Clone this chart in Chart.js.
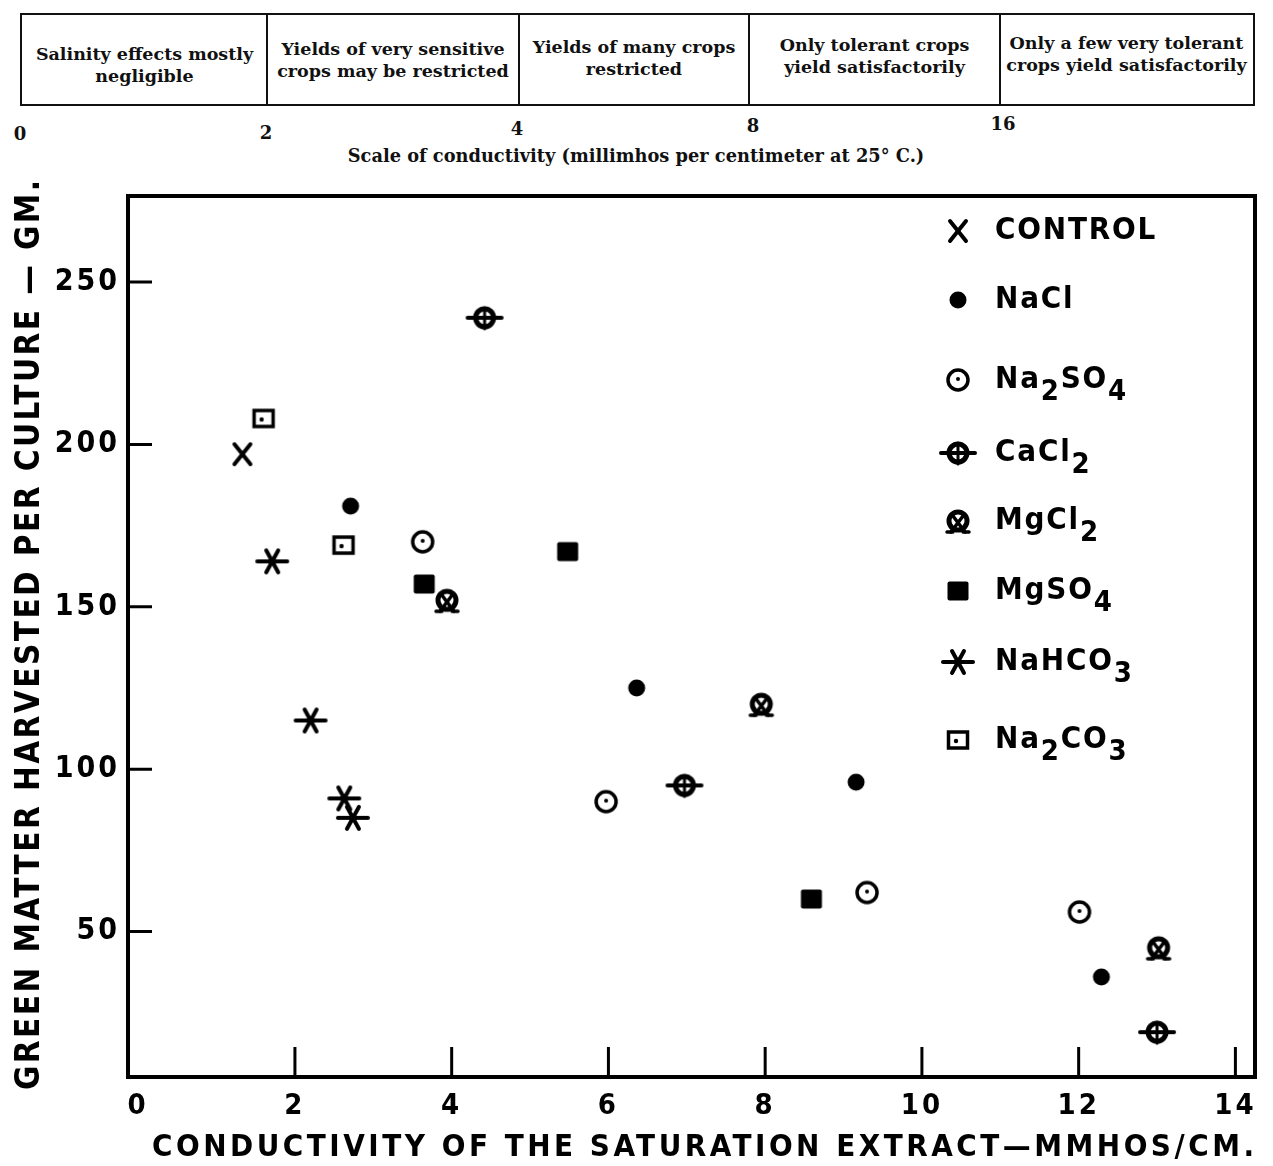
<!DOCTYPE html>
<html>
<head>
<meta charset="utf-8">
<script src="https://cdn.jsdelivr.net/npm/chart.js@4.4.0/dist/chart.umd.min.js"></script>
<style>
  body { margin: 0; background: #fff; width: 1273px; height: 1166px; overflow: hidden; position: relative; color: #111; }
  #band { position: absolute; left: 20px; top: 13px; width: 1235px; height: 93px; border: 2px solid #111; box-sizing: border-box; }
  .cell { position: absolute; top: 0; height: 100%; display: flex; align-items: center; justify-content: center;
          text-align: center; font: bold 17.5px "DejaVu Serif", serif; line-height: 22px; white-space: nowrap; }
  .sep { position: absolute; top: 0; bottom: 0; width: 2px; background: #111; }
  .num { position: absolute; font: bold 18px "DejaVu Serif", serif; transform: translate(-50%, -50%); }
  #caption { position: absolute; left: 636px; top: 155px; transform: translate(-50%, -50%); white-space: nowrap;
             font: bold 17.8px "DejaVu Serif", serif; }
  #wrap { position: absolute; left: 0; top: 170px; width: 1273px; height: 996px; }
</style>
</head>
<body>
<div id="band"></div>
<div id="caption"></div>
<div id="wrap"><canvas id="chart" width="1273" height="996"></canvas></div>
<script>
// salinity classes shown above the chart
const classLabels = [
  ['Salinity effects mostly', 'negligible'],
  ['Yields of very sensitive', 'crops may be restricted'],
  ['Yields of many crops', 'restricted'],
  ['Only tolerant crops', 'yield satisfactorily'],
  ['Only a few very tolerant', 'crops yield satisfactorily']
];
const classTicks = ['0', '2', '4', '8', '16'];
const classCaption = 'Scale of conductivity (millimhos per centimeter at 25° C.)';

// main chart
const xTicks = [0, 2, 4, 6, 8, 10, 12, 14];
const yTicks = [50, 100, 150, 200, 250];
const xRange = [-0.13, 14.25];
const yRange = [5.2, 276.5];
const xTitle = 'CONDUCTIVITY OF THE SATURATION EXTRACT—MMHOS/CM.';
const yTitle = 'GREEN MATTER HARVESTED PER CULTURE — GM.';

const controlX = [1.33];
const controlY = [197];
const naclX = [2.71, 6.36, 9.16, 12.29];
const naclY = [181, 125, 96, 36];
const na2so4X = [3.63, 5.97, 9.30, 12.01];
const na2so4Y = [170, 90, 62, 56];
const cacl2X = [4.42, 6.97, 13.0];
const cacl2Y = [239, 95, 19];
const mgcl2X = [3.94, 7.95, 13.02];
const mgcl2Y = [152, 120, 45];
const mgso4X = [3.65, 5.48, 8.59];
const mgso4Y = [157, 167, 60];
const nahco3X = [1.71, 2.20, 2.63, 2.74];
const nahco3Y = [164, 115, 91, 85];
const na2co3X = [1.60, 2.62];
const na2co3Y = [208, 169];

const seriesNames = ['CONTROL', 'NaCl', 'Na2SO4', 'CaCl2', 'MgCl2', 'MgSO4', 'NaHCO3', 'Na2CO3'];
const seriesX = [controlX, naclX, na2so4X, cacl2X, mgcl2X, mgso4X, nahco3X, na2co3X];
const seriesY = [controlY, naclY, na2so4Y, cacl2Y, mgcl2Y, mgso4Y, nahco3Y, na2co3Y];

// ---- top band (html) ----
const band = document.getElementById('band');
const cellEdges = [0, 245, 497, 727, 978, 1231];
const cellShift = [5, 0, -2, -4, -6];
classLabels.forEach((lines, i) => {
  const d = document.createElement('div');
  d.className = 'cell';
  d.style.left = cellEdges[i] + 'px';
  d.style.width = (cellEdges[i + 1] - cellEdges[i]) + 'px';
  d.style.transform = 'translateY(' + cellShift[i] + 'px)';
  d.innerHTML = lines.join('<br>');
  band.appendChild(d);
  if (i > 0) {
    const s = document.createElement('div');
    s.className = 'sep';
    s.style.left = (cellEdges[i] - 1) + 'px';
    band.appendChild(s);
  }
});
const tickPos = [[20, 133], [266, 132], [517, 128], [753, 125], [1003, 123]];
classTicks.forEach((t, i) => {
  const d = document.createElement('div');
  d.className = 'num';
  d.style.left = tickPos[i][0] + 'px';
  d.style.top = tickPos[i][1] + 'px';
  d.textContent = t;
  document.body.appendChild(d);
});
document.getElementById('caption').textContent = classCaption;

// ---- marker shapes ----
function mark(draw) {
  const c = document.createElement('canvas');
  c.width = 44; c.height = 44;
  const g = c.getContext('2d');
  g.translate(22, 22);
  g.strokeStyle = g.fillStyle = '#000';
  g.lineCap = 'round';
  draw(g);
  return c;
}
function line(g, x1, y1, x2, y2) { g.beginPath(); g.moveTo(x1, y1); g.lineTo(x2, y2); g.stroke(); }
function ring(g, r, w) { g.lineWidth = w; g.beginPath(); g.arc(0, 0, r, 0, Math.PI * 2); g.stroke(); }

const markers = [
  mark(g => { g.lineWidth = 4; line(g, -8, -10, 8, 10); line(g, 8, -10, -8, 10); }),
  mark(g => { g.beginPath(); g.arc(0, 0, 8.5, 0, Math.PI * 2); g.fill(); }),
  mark(g => { ring(g, 10, 3.5); g.beginPath(); g.arc(0, -1, 2, 0, Math.PI * 2); g.fill(); }),
  mark(g => { ring(g, 9, 5); g.lineWidth = 3; line(g, 0, -10, 0, 11); g.lineWidth = 4; line(g, -17, 0, 17, 0); }),
  mark(g => { ring(g, 9, 5); g.lineWidth = 3.5; line(g, -5, -5, 7, 11); line(g, 5, -5, -7, 11);
              line(g, -11, 11, -5, 11); line(g, 5, 11, 11, 11); }),
  mark(g => { g.beginPath(); g.roundRect(-10.5, -9.5, 21, 19, 2); g.fill(); }),
  mark(g => { g.lineWidth = 4; line(g, -15, 0, 15, 0); line(g, -6, -11, 6, 11); line(g, 6, -11, -6, 11); }),
  mark(g => { g.lineWidth = 3.5; g.strokeRect(-9.5, -8, 19, 16); g.beginPath(); g.arc(-2, 1, 2.2, 0, Math.PI * 2); g.fill(); })
];

// ---- frame, inward ticks, titles, legend ----
const legendRows = [231, 300, 380, 453, 521, 591, 662, 740];
function fitText(ctx, text, x, y, width) {
  ctx.letterSpacing = '0px';
  const w = ctx.measureText(text).width;
  ctx.letterSpacing = ((width - w) / (text.length - 1)) + 'px';
  ctx.textAlign = 'left';
  ctx.textBaseline = 'middle';
  ctx.fillText(text, x, y);
}
function chemText(ctx, label, x, y, main, sub, gap) {
  ctx.letterSpacing = '0px';
  ctx.textAlign = 'left';
  ctx.textBaseline = 'middle';
  let cx = x;
  for (const ch of label) {
    const isSub = /\d/.test(ch);
    ctx.font = isSub ? sub : main;
    ctx.fillText(ch, cx, isSub ? y + 12 : y);
    cx += ctx.measureText(ch).width + gap;
  }
}

const framePlugin = {
  id: 'frame',
  beforeDraw(chart) { chart.ctx.letterSpacing = '3px'; },
  afterDraw(chart) {
    const { ctx, chartArea: a, scales: { x, y } } = chart;
    const top = 170;
    ctx.save();
    ctx.strokeStyle = '#000';
    ctx.fillStyle = '#000';
    ctx.lineWidth = 4;
    ctx.strokeRect(a.left, a.top, a.right - a.left, a.bottom - a.top);
    ctx.lineWidth = 3;
    ctx.beginPath();
    xTicks.slice(1).forEach(v => {
      const px = x.getPixelForValue(v);
      ctx.moveTo(px, a.bottom); ctx.lineTo(px, a.bottom - 30);
    });
    yTicks.forEach(v => {
      const py = y.getPixelForValue(v);
      ctx.moveTo(a.left, py); ctx.lineTo(a.left + 24, py);
    });
    ctx.stroke();

    ctx.font = 'bold 31px "DejaVu Sans Condensed", "DejaVu Sans", sans-serif';
    fitText(ctx, xTitle, 152, 1148 - top, 1102);
    ctx.save();
    ctx.translate(30, 1090 - top);
    ctx.rotate(-Math.PI / 2);
    ctx.font = 'bold 33px "DejaVu Sans Condensed", "DejaVu Sans", sans-serif';
    fitText(ctx, yTitle, 0, 0, 910);
    ctx.restore();

    const main = 'bold 31px "DejaVu Sans Condensed", "DejaVu Sans", sans-serif';
    const sub = 'bold 29px "DejaVu Sans Condensed", "DejaVu Sans", sans-serif';
    seriesNames.forEach((name, i) => {
      const m = markers[i];
      const ry = legendRows[i] - top;
      ctx.drawImage(m, 958 - m.width / 2, ry - m.height / 2);
      chemText(ctx, name, 995, ry, main, sub, 1.8);
    });
    ctx.restore();
  }
};

new Chart(document.getElementById('chart'), {
  type: 'scatter',
  data: {
    datasets: seriesNames.map((name, i) => ({
      label: name,
      data: seriesX[i].map((v, j) => ({ x: v, y: seriesY[i][j] })),
      pointStyle: markers[i],
      pointRadius: 10,
      borderColor: '#000',
      backgroundColor: '#000'
    }))
  },
  options: {
    responsive: false,
    animation: false,
    events: [],
    layout: { padding: { top: 17, right: 18, left: 0, bottom: 0 } },
    plugins: { legend: { display: false }, tooltip: { enabled: false } },
    scales: {
      x: {
        type: 'linear', min: xRange[0], max: xRange[1],
        afterBuildTicks: s => { s.ticks = xTicks.map(v => ({ value: v })); },
        afterFit: s => { s.height = 89; },
        grid: { display: false, drawTicks: false },
        border: { display: false },
        ticks: { color: '#000', padding: 12, maxRotation: 0, autoSkip: false,
                 font: { family: '"DejaVu Sans Condensed", "DejaVu Sans", sans-serif', size: 29, weight: 'bold' } }
      },
      y: {
        type: 'linear', min: yRange[0], max: yRange[1],
        afterBuildTicks: s => { s.ticks = yTicks.map(v => ({ value: v })); },
        afterFit: s => { s.width = 128; },
        grid: { display: false, drawTicks: false },
        border: { display: false },
        ticks: { color: '#000', padding: 8, autoSkip: false,
                 font: { family: '"DejaVu Sans Condensed", "DejaVu Sans", sans-serif', size: 30, weight: 'bold' } }
      }
    }
  },
  plugins: [framePlugin]
});
</script>
</body>
</html>
